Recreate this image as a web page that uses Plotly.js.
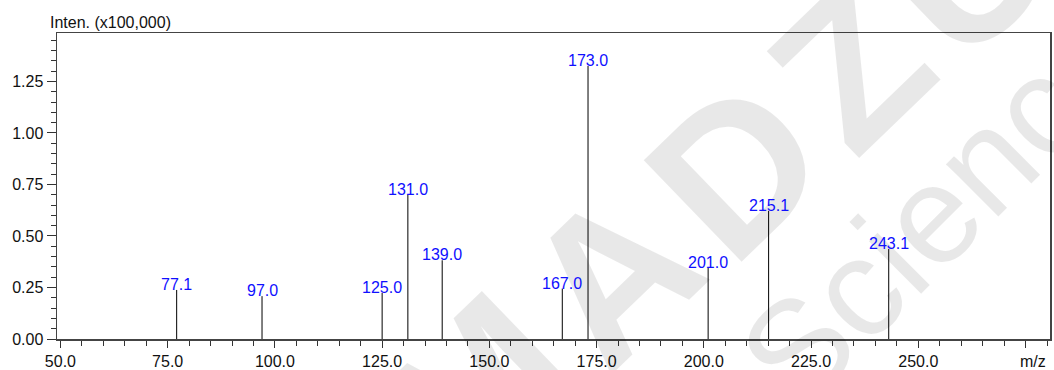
<!DOCTYPE html>
<html>
<head>
<meta charset="utf-8">
<script src="https://cdn.plot.ly/plotly-3.0.1.min.js"></script>
<style>
html,body{margin:0;padding:0;background:#fff;}
#chart{width:1054px;height:370px;}
</style>
</head>
<body>
<div id="chart"></div>
<script>
// ---- data ----
const mz = [77.1, 97.0, 125.0, 131.0, 139.0, 167.0, 173.0, 201.0, 215.1, 243.1];
const intensity = [0.238, 0.208, 0.224, 0.700, 0.382, 0.245, 1.325, 0.346, 0.622, 0.437];
const peakLabels = ['77.1', '97.0', '125.0', '131.0', '139.0', '167.0', '173.0', '201.0', '215.1', '243.1'];
const xTickVals = [50, 75, 100, 125, 150, 175, 200, 225, 250, 275];
const xTickText = ['50.0', '75.0', '100.0', '125.0', '150.0', '175.0', '200.0', '225.0', '250.0', ''];
const yTickVals = [0, 0.25, 0.5, 0.75, 1.0, 1.25];
const yTickText = ['0.00', '0.25', '0.50', '0.75', '1.00', '1.25'];
const yAxisLabel = 'Inten. (x100,000)';
const xAxisLabel = 'm/z';
const watermark1 = 'SHIMADZU';
const watermark2 = 'Science';

// ---- build sticks ----
const sx = [], sy = [];
mz.forEach((m, i) => { sx.push(m, m, null); sy.push(0, intensity[i], null); });

const FONT = 'Liberation Sans, Arial, sans-serif';
const W = 1054, H = 370, ML = 57, MR = 4, MT = 33, MB = 31;
const PW = W - ML - MR, PH = H - MT - MB;
const toPaperX = px => (px - ML) / PW;
const toPaperY = py => (H - MB - py) / PH;

const annotations = [];

// watermark: SHIMADZU, letter by letter along a diagonal (only letters that reach the picture)
const boldW = {S:.667, H:.722, I:.278, M:.833, A:.722, D:.722, Z:.611, U:.722};
const wmSize = 205, wmGap = 16, wmDir = 41 * Math.PI / 180;
const ux = Math.cos(wmDir), uy = -Math.sin(wmDir);
const letters = watermark1.split('');
const centers = [];
let acc = 0;
letters.forEach(ch => {
  const w = boldW[ch] * wmSize;
  centers.push(acc + w / 2);
  acc += w + wmGap;
});
const anchorIdx = letters.indexOf('D');
const anchorPx = [735, 168];
letters.forEach((ch, i) => {
  const d = centers[i] - centers[anchorIdx];
  const px = anchorPx[0] + d * ux, py = anchorPx[1] + d * uy;
  if (px < -60 || px > W + 60 || py < -60 || py > H + 60) return;
  annotations.push({xref:'paper', yref:'paper', x:toPaperX(px), y:toPaperY(py), text:'<b>' + ch + '</b>',
    showarrow:false, textangle:-44, xanchor:'center', yanchor:'middle',
    font:{family:FONT, size:wmSize, color:'rgba(0,0,0,0.09)'}});
});
annotations.push({xref:'paper', yref:'paper', x:0.89, y:0.435, text:watermark2, showarrow:false,
   textangle:-45, font:{family:FONT, size:140, color:'rgba(0,0,0,0.09)'}, xanchor:'center', yanchor:'middle'});

annotations.push(
  {xref:'paper', yref:'paper', x:toPaperX(48), y:1, text:yAxisLabel, showarrow:false,
   xanchor:'left', yanchor:'bottom', yshift:0, font:{family:FONT, size:16, color:'#111'}},
  {xref:'paper', yref:'paper', x:0.998, y:0, text:xAxisLabel, showarrow:false,
   xanchor:'right', yanchor:'top', yshift:-12, font:{family:FONT, size:16, color:'#111'}}
);
mz.forEach((m, i) => {
  annotations.push({xref:'x', yref:'y', x:m, y:intensity[i], text:peakLabels[i], showarrow:false,
    xanchor:'center', yanchor:'bottom', yshift:-5, font:{family:FONT, size:16, color:'#1010ff'}});
});

const traces = [{
  type:'scatter', mode:'lines', x:sx, y:sy, connectgaps:false,
  line:{color:'#000', width:1}, hoverinfo:'skip', showlegend:false
}];

const layout = {
  width:W, height:H,
  margin:{l:ML, r:MR, t:MT, b:MB, pad:0},
  paper_bgcolor:'#fff', plot_bgcolor:'rgba(0,0,0,0)',
  font:{family:FONT, size:16, color:'#111'},
  showlegend:false,
  xaxis:{
    range:[49.2, 280.7], showgrid:false, zeroline:false,
    showline:true, mirror:true, linecolor:'#444', linewidth:1.5,
    ticks:'outside', ticklen:7, tickwidth:1, tickcolor:'#333',
    tickmode:'array', tickvals:xTickVals, ticktext:xTickText,
    tickfont:{family:FONT, size:16, color:'#111'},
    minor:{dtick:5, tick0:0, ticks:'outside', ticklen:5, tickwidth:1, tickcolor:'#333', showgrid:false}
  },
  yaxis:{
    range:[0, 1.485], showgrid:false, zeroline:false,
    showline:true, mirror:true, linecolor:'#444', linewidth:1.5,
    ticks:'outside', ticklen:9, tickwidth:1, tickcolor:'#333',
    tickmode:'array', tickvals:yTickVals, ticktext:yTickText,
    tickfont:{family:FONT, size:16, color:'#111'},
    minor:{dtick:0.05, tick0:0, ticks:'outside', ticklen:5, tickwidth:1, tickcolor:'#333', showgrid:false}
  },
  annotations:annotations
};

Plotly.newPlot('chart', traces, layout, {staticPlot:true, displayModeBar:false});
</script>
</body>
</html>
